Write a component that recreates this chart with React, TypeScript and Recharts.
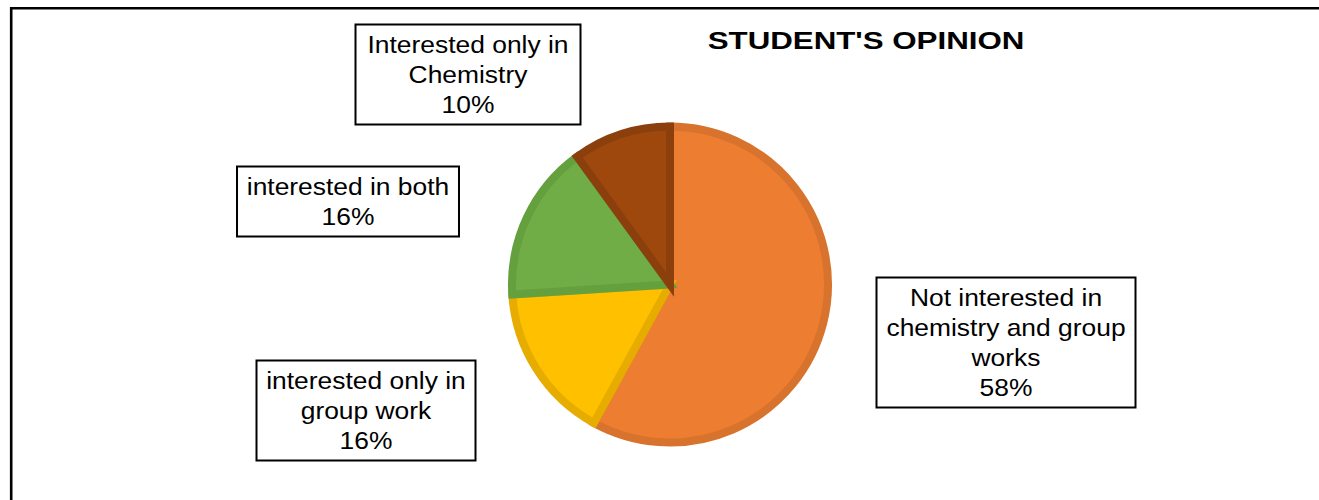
import React from "react";
import { PieChart, Pie, Cell } from "recharts";

const CATEGORIES = [
  "Not interested in\nchemistry and group\nworks",
  "interested only in\ngroup work",
  "interested in both",
  "Interested only in\nChemistry",
];
const VALUES = [58, 16, 16, 10];
const TITLE = "STUDENT'S OPINION";

const FILLS = ["#ED7D31", "#FFC000", "#70AD47", "#9E480E"];
const STROKES = ["#D8732D", "#E6AD00", "#64A03D", "#8A3F0C"];

// label box layout relative to pie centre (px)
const LABEL_LAYOUT = [
  { dx: 336, dy: 58, w: 259 },
  { dx: -304, dy: 126, w: 219 },
  { dx: -322, dy: -83, w: 222 },
  { dx: -202, dy: -210, w: 225 },
];

const data = CATEGORIES.map((name, i) => ({ name, value: VALUES[i] }));

const FONT = "'Liberation Sans', Arial, sans-serif";
const LINE_H = 30;

const renderLabel = (props: any) => {
  const { cx, cy, index, name, value } = props;
  const lay = LABEL_LAYOUT[index];
  const lines = [...String(name).split("\n"), `${value}%`];
  const n = lines.length;
  const bx = cx + lay.dx;
  const by = cy + lay.dy;
  const h = n * LINE_H + 10;
  return (
    <g key={`lbl-${index}`}>
      <rect
        x={bx - lay.w / 2}
        y={by - h / 2}
        width={lay.w}
        height={h}
        fill="#fff"
        stroke="#000"
        strokeWidth={2}
      />
      {lines.map((t, i) => (
        <text
          key={i}
          transform={`translate(${bx},${by + (i - (n - 1) / 2) * LINE_H + 8.5}) scale(1.1,1)`}
          textAnchor="middle"
          fontFamily={FONT}
          fontSize={24}
          fill="#000"
        >
          {t}
        </text>
      ))}
    </g>
  );
};

export default function App() {
  return (
    <div style={{ position: "absolute", left: 0, top: 0, width: 1319, height: 500, background: "#fff" }}>
      <svg width={1319} height={500} style={{ position: "absolute", left: 0, top: 0 }}>
        <path d="M11.2,500 L11.2,8.3 L1319,8.3" fill="none" stroke="#000" strokeWidth={2.6} />
        <text
          transform="translate(866,48.5) scale(1.36,1)"
          textAnchor="middle"
          fontFamily={FONT}
          fontWeight="bold"
          fontSize={23}
          fill="#000"
        >
          {TITLE}
        </text>
      </svg>
      <div style={{ position: "absolute", left: 0, top: 0 }}>
        <PieChart width={1319} height={500} margin={{ top: 0, right: 0, bottom: 0, left: 0 }}>
          <Pie
            data={data}
            dataKey="value"
            nameKey="name"
            cx={670}
            cy={284.5}
            outerRadius={158}
            startAngle={90}
            endAngle={-270}
            strokeWidth={8}
            label={renderLabel}
            labelLine={false}
            isAnimationActive={false}
          >
            {data.map((d, i) => (
              <Cell key={d.name} fill={FILLS[i]} stroke={STROKES[i]} />
            ))}
          </Pie>
        </PieChart>
      </div>
    </div>
  );
}
